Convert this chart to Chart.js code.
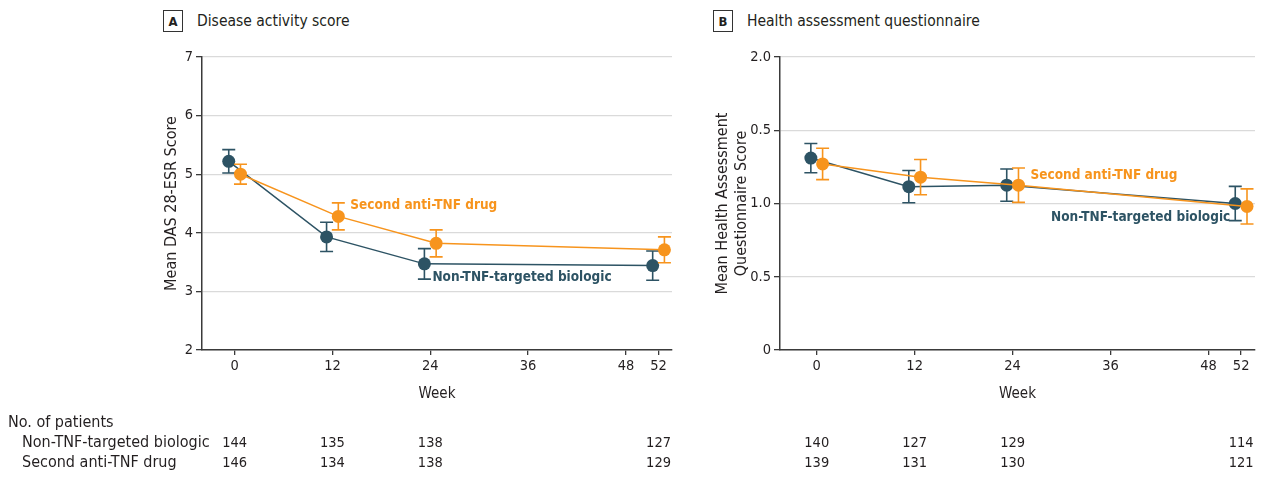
<!DOCTYPE html>
<html><head><meta charset="utf-8">
<script src="https://cdn.jsdelivr.net/npm/chart.js@4.4.0/dist/chart.umd.min.js"></script>
<style>
html,body{margin:0;padding:0;background:#fff;}
body{width:1265px;height:487px;position:relative;overflow:hidden;font-family:"DejaVu Sans Condensed","DejaVu Sans",sans-serif;color:#231f20;}
.hdr{position:absolute;top:10px;height:22px;display:flex;align-items:center;font-size:15.5px;white-space:nowrap;}
.box{box-sizing:border-box;border:1px solid #333;width:20px;height:22px;display:flex;align-items:center;justify-content:center;font-weight:bold;font-size:13px;margin-right:14px;}
canvas{position:absolute;top:0;}
</style></head>
<body>
<div class="hdr" style="left:163px"><div class="box">A</div>Disease activity score</div>
<div class="hdr" style="left:713px"><div class="box">B</div>Health assessment questionnaire</div>
<canvas id="cA" width="690" height="487" style="left:0;width:690px;height:487px"></canvas>
<canvas id="cB" width="575" height="487" style="left:690px;width:575px;height:487px"></canvas>
<script>
// ---------- data ----------
const WEEKS = [0, 12, 24, 52];
const X_TICKS = [0, 12, 24, 36, 48, 52];
const SERIES_NAMES = ['Non-TNF-targeted biologic', 'Second anti-TNF drug'];

const DAS_NON_TNF      = [5.22, 3.93, 3.47, 3.44];
const DAS_NON_TNF_ERR  = [0.20, 0.25, 0.26, 0.25];
const DAS_ANTI_TNF     = [5.00, 4.28, 3.82, 3.71];
const DAS_ANTI_TNF_ERR = [0.17, 0.23, 0.23, 0.22];

const HAQ_NON_TNF      = [1.31, 1.115, 1.125, 1.00];
const HAQ_NON_TNF_ERR  = [0.10, 0.11, 0.11, 0.117];
const HAQ_ANTI_TNF     = [1.27, 1.18, 1.125, 0.98];
const HAQ_ANTI_TNF_ERR = [0.107, 0.12, 0.117, 0.12];

const DAS_Y_TICKS = [2, 3, 4, 5, 6, 7];
const HAQ_Y_TICKS = [0, 0.5, 1, 1.5, 2];
const HAQ_Y_TICK_LABELS = ['0', '0.5', '1.0', '0.5', '2.0'];

const DAS_N_NON_TNF  = [144, 135, 138, 127];
const DAS_N_ANTI_TNF = [146, 134, 138, 129];
const HAQ_N_NON_TNF  = [140, 127, 129, 114];
const HAQ_N_ANTI_TNF = [139, 131, 130, 121];

// ---------- style ----------
const NAVY = '#2d5364';
const ORANGE = '#f7941d';
const AXIS = '#3a3a3a';
const GRID = '#dadada';
const TXT = '#231f20';
const FONT = '"DejaVu Sans Condensed","DejaVu Sans",sans-serif';
const DODGE = 0.72;

const errorBars = {
  id: 'errorBars',
  beforeDatasetDraw(chart, args) {
    const ds = chart.data.datasets[args.index];
    if (!ds.errors) return;
    const meta = chart.getDatasetMeta(args.index);
    const ys = chart.scales.y, ctx = chart.ctx;
    ctx.save();
    ctx.strokeStyle = ds.borderColor;
    ctx.lineWidth = 1.6;
    meta.data.forEach((pt, i) => {
      const v = ds.data[i].y, e = ds.errors[i];
      const x = pt.x, y1 = ys.getPixelForValue(v + e), y2 = ys.getPixelForValue(v - e);
      ctx.beginPath();
      ctx.moveTo(x, y1); ctx.lineTo(x, y2);
      ctx.moveTo(x - 6.5, y1); ctx.lineTo(x + 6.5, y1);
      ctx.moveTo(x - 6.5, y2); ctx.lineTo(x + 6.5, y2);
      ctx.stroke();
    });
    ctx.restore();
  }
};

const annotations = {
  id: 'annotations',
  afterDraw(chart, args, opts) {
    const ctx = chart.ctx;
    ctx.save();
    (opts.labels || []).forEach(l => {
      const pt = chart.getDatasetMeta(l.dataset).data[l.index];
      ctx.font = 'bold 13.5px ' + FONT;
      ctx.fillStyle = chart.data.datasets[l.dataset].borderColor;
      ctx.textAlign = l.align; ctx.textBaseline = 'middle';
      ctx.fillText(l.text, pt.x + l.dx, pt.y + l.dy);
    });
    const xs = chart.scales.x;
    ctx.fillStyle = TXT;
    ctx.textBaseline = 'middle';
    ctx.font = '16px ' + FONT;
    if (opts.header) {
      ctx.textAlign = 'left';
      ctx.fillText(opts.header.text, opts.header.x, opts.header.y);
    }
    (opts.rows || []).forEach(r => {
      ctx.font = '16px ' + FONT;
      if (r.label) { ctx.textAlign = 'left'; ctx.fillText(r.label, r.labelX, r.y); }
      ctx.font = '14.5px ' + FONT;
      ctx.textAlign = 'center';
      r.values.forEach((v, i) => ctx.fillText(String(v), xs.getPixelForValue(WEEKS[i]), r.y));
    });
    ctx.restore();
  }
};

function makeChart(id, cfg) {
  const pts = (vals, d) => vals.map((v, i) => ({x: WEEKS[i] + d, y: v}));
  return new Chart(document.getElementById(id), {
    type: 'line',
    data: {
      datasets: [
        {label: SERIES_NAMES[0], data: pts(cfg.s1, -DODGE), errors: cfg.e1, borderColor: NAVY, backgroundColor: NAVY,
         pointBackgroundColor: NAVY, borderWidth: 1.5, pointRadius: 6.5, pointBorderWidth: 0, pointHoverRadius: 6.5, order: 2},
        {label: SERIES_NAMES[1], data: pts(cfg.s2, DODGE), errors: cfg.e2, borderColor: ORANGE, backgroundColor: ORANGE,
         pointBackgroundColor: ORANGE, borderWidth: 1.5, pointRadius: 6.5, pointBorderWidth: 0, pointHoverRadius: 6.5, order: 1}
      ]
    },
    options: {
      responsive: false, animation: false, events: [],
      layout: {padding: cfg.padding},
      plugins: {legend: {display: false}, tooltip: {enabled: false},
        annotations: {labels: cfg.labels, rows: cfg.rows, header: cfg.header}},
      scales: {
        x: {
          type: 'linear', min: cfg.xmin, max: cfg.xmax,
          afterBuildTicks: s => { s.ticks = X_TICKS.map(v => ({value: v})); },
          afterFit: s => { s.height = 53; },
          ticks: {color: TXT, font: {family: FONT, size: 14.5}, padding: 3, maxRotation: 0, autoSkip: false,
                  callback: v => String(v)},
          grid: {drawOnChartArea: false, drawTicks: true, tickLength: 5, color: AXIS, tickColor: AXIS, lineWidth: 1.3},
          border: {display: true, color: AXIS, width: 1.5},
          title: {display: true, text: 'Week', color: TXT, font: {family: FONT, size: 15}, padding: 0}
        },
        y: {
          type: 'linear', min: cfg.ymin, max: cfg.ymax,
          afterBuildTicks: s => { s.ticks = cfg.yticks.map(v => ({value: v})); },
          afterFit: s => { s.width = cfg.yWidth; },
          ticks: {color: TXT, font: {family: FONT, size: 14.5}, padding: 3, autoSkip: false,
                  callback: cfg.ylabel},
          grid: {drawTicks: true, tickLength: 6, color: GRID, tickColor: AXIS, lineWidth: 1.3},
          border: {display: true, color: AXIS, width: 1.5},
          title: {display: true, text: cfg.ytitle, color: TXT, font: {family: FONT, size: 16, lineHeight: 1.15}, padding: 0}
        }
      }
    },
    plugins: [errorBars, annotations]
  });
}

makeChart('cA', {
  s1: DAS_NON_TNF, e1: DAS_NON_TNF_ERR, s2: DAS_ANTI_TNF, e2: DAS_ANTI_TNF_ERR,
  xmin: -4.0, xmax: 53.65, ymin: 2, ymax: 7, yticks: DAS_Y_TICKS,
  ylabel: v => String(v), ytitle: 'Mean DAS 28-ESR Score',
  padding: {left: 163, right: 18, top: 57, bottom: 84}, yWidth: 39,
  labels: [
    {dataset: 1, index: 1, dx: 12, dy: -11, align: 'left', text: SERIES_NAMES[1]},
    {dataset: 0, index: 2, dx: 8, dy: 14, align: 'left', text: SERIES_NAMES[0]}
  ],
  header: {text: 'No. of patients', x: 8, y: 423},
  rows: [
    {label: SERIES_NAMES[0], labelX: 22, y: 443, values: DAS_N_NON_TNF},
    {label: SERIES_NAMES[1], labelX: 22, y: 463, values: DAS_N_ANTI_TNF}
  ]
});

makeChart('cB', {
  s1: HAQ_NON_TNF, e1: HAQ_NON_TNF_ERR, s2: HAQ_ANTI_TNF, e2: HAQ_ANTI_TNF_ERR,
  xmin: -4.5, xmax: 53.7, ymin: 0, ymax: 2, yticks: HAQ_Y_TICKS,
  ylabel: (v, i) => HAQ_Y_TICK_LABELS[i], ytitle: ['Mean Health Assessment', 'Questionnaire Score'],
  padding: {left: 24, right: 10, top: 57, bottom: 84}, yWidth: 66,
  labels: [
    {dataset: 1, index: 2, dx: 12, dy: -10, align: 'left', text: SERIES_NAMES[1]},
    {dataset: 0, index: 3, dx: -5, dy: 14, align: 'right', text: SERIES_NAMES[0]}
  ],
  rows: [
    {y: 443, values: HAQ_N_NON_TNF},
    {y: 463, values: HAQ_N_ANTI_TNF}
  ]
});
</script>
</body></html>
